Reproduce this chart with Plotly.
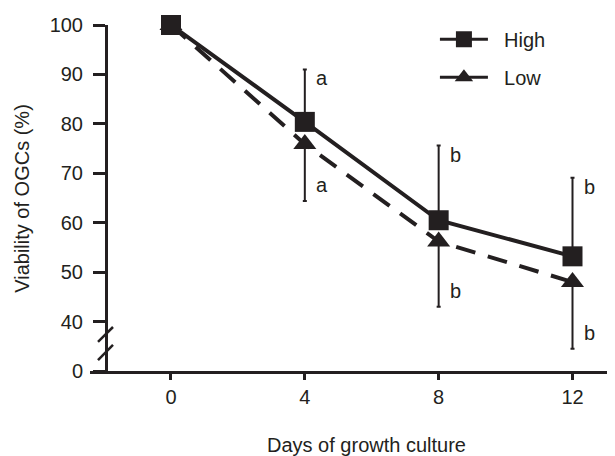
import plotly.graph_objects as go

# ---- data ----
days = [0, 4, 8, 12]
high = [100, 80.4, 60.5, 53.2]
low = [100, 75.9, 56.2, 48.0]
high_err_up = [0, 10.6, 15.1, 15.9]
low_err_down = [0, 11.5, 13.2, 13.5]
letters_high = ["", "a", "b", "b"]
letters_low = ["", "a", "b", "b"]
y_tickvals = [30, 40, 50, 60, 70, 80, 90, 100]
y_ticktext = ["0", "40", "50", "60", "70", "80", "90", "100"]
x_tickvals = [0, 4, 8, 12]

INK = "#231f20"
FONT = "Liberation Sans, Arial, sans-serif"
FS = 20
NBSP = "\u00a0"

fig = go.Figure()

# Low (dashed) first so High sits on top
fig.add_trace(go.Scatter(
    x=days, y=low, mode="lines+markers", name="Low", showlegend=False,
    line=dict(color=INK, width=4, dash="20px,13px"),
    marker=dict(symbol="triangle-up", size=20, color=INK),
    error_y=dict(type="data", symmetric=False, array=[0] * len(days),
                 arrayminus=low_err_down, color=INK, thickness=2, width=2),
    cliponaxis=False,
))
fig.add_trace(go.Scatter(
    x=days, y=high, mode="lines+markers", name="High", showlegend=False,
    line=dict(color=INK, width=4),
    marker=dict(symbol="square", size=20, color=INK),
    error_y=dict(type="data", symmetric=False, array=high_err_up,
                 arrayminus=[0] * len(days), color=INK, thickness=2, width=2),
    cliponaxis=False,
))

# legend-only traces (solid samples as in the reference)
fig.add_trace(go.Scatter(x=[None], y=[None], mode="lines+markers",
                         name=NBSP * 2 + "High",
                         line=dict(color=INK, width=3),
                         marker=dict(symbol="square", size=16, color=INK),
                         legendgroup="h"))
fig.add_trace(go.Scatter(x=[None], y=[None], mode="lines+markers",
                         name=NBSP * 2 + "Low",
                         line=dict(color=INK, width=3),
                         marker=dict(symbol="triangle-up", size=16, color=INK),
                         legendgroup="l"))

# significance letters
for d, h, e, t in zip(days, high, high_err_up, letters_high):
    if t:
        fig.add_annotation(x=d, y=h + e, text=t, showarrow=False, xanchor="left",
                           yanchor="middle", xshift=9, yshift=-9,
                           font=dict(family=FONT, size=FS, color=INK))
for d, l, e, t in zip(days, low, low_err_down, letters_low):
    if t:
        fig.add_annotation(x=d, y=l - e, text=t, showarrow=False, xanchor="left",
                           yanchor="middle", xshift=9, yshift=16,
                           font=dict(family=FONT, size=FS, color=INK))

# axis titles
fig.add_annotation(xref="paper", yref="paper", x=0.526, y=-0.213,
                   text="Days of growth culture", showarrow=False,
                   xanchor="center", yanchor="middle",
                   font=dict(family=FONT, size=FS, color=INK))
fig.add_annotation(xref="paper", yref="paper", x=-0.13, y=0.5,
                   text="Viability of OGCs (%)", showarrow=False, textangle=-90,
                   xanchor="center", yanchor="middle",
                   font=dict(family=FONT, size=FS, color=INK))

# axis break marks
for y0, y1 in [(35.9, 38.9), (32.2, 35.3)]:
    fig.add_shape(type="line", xref="paper", yref="y", x0=0.0152, x1=0.0438,
                  y0=y0, y1=y1, line=dict(color=INK, width=2.5))

# page body has an 8px margin, so the figure is 8px smaller on each axis
fig.update_layout(
    width=607, height=448,
    margin=dict(l=82, r=0, t=17, b=85),
    paper_bgcolor="white", plot_bgcolor="white",
    font=dict(family=FONT, size=FS, color=INK),
    showlegend=True,
    legend=dict(x=0.657, y=1.0155, xanchor="left", yanchor="top",
                bgcolor="rgba(0,0,0,0)", tracegroupgap=9,
                font=dict(family=FONT, size=FS, color=INK), itemwidth=48),
    xaxis=dict(range=[-2.42, 13.27], tickvals=x_tickvals, showline=True,
               linecolor=INK, linewidth=3, ticks="outside", ticklen=6,
               tickwidth=3, tickcolor=INK, showgrid=False, zeroline=False,
               tickfont=dict(family=FONT, size=FS, color=INK)),
    yaxis=dict(range=[30, 100], tickvals=y_tickvals, ticktext=y_ticktext,
               anchor="free", position=0.0305, showline=True, linecolor=INK,
               linewidth=3, ticks="outside", ticklen=12, tickwidth=3,
               tickcolor=INK, showgrid=False, zeroline=False,
               ticklabelstandoff=6,
               tickfont=dict(family=FONT, size=FS, color=INK)),
)

fig.write_html("out.html")
